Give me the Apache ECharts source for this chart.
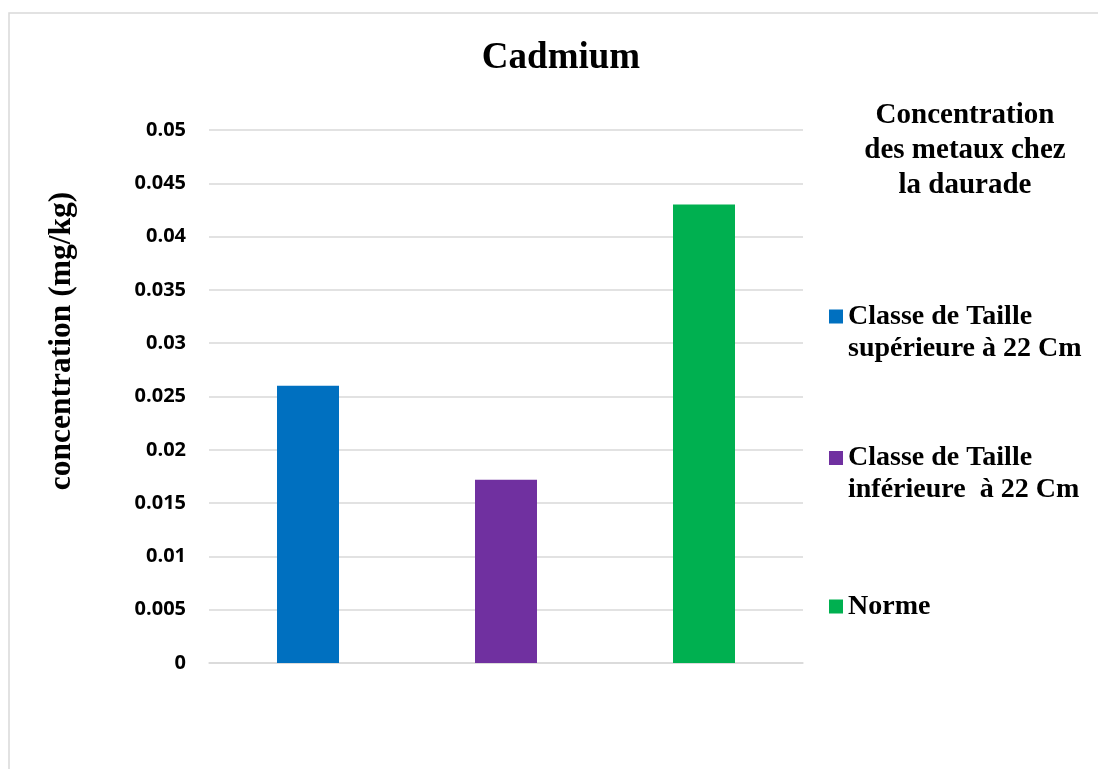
<!DOCTYPE html>
<html>
<head>
<meta charset="utf-8">
<script src="https://cdn.jsdelivr.net/npm/echarts@6/dist/echarts.min.js"></script>
<style>
  html, body { margin: 0; padding: 0; background: #fff; }
  #myBarChart { width: 1098px; height: 769px; }
</style>
</head>
<body>
<div id="myBarChart"></div>
<script>
  // data
  var categories = ['Classe de Taille\nsupérieure à 22 Cm', 'Classe de Taille\ninférieure  à 22 Cm', 'Norme'];
  var values = [0.026, 0.0172, 0.043];
  var barColors = ['#0070C0', '#7030A0', '#00B050'];
  var yTicks = { min: 0, max: 0.05, interval: 0.005 };

  var myBarChart = echarts.init(document.getElementById('myBarChart'));

  // one series per bar so each gets a legend entry, stacked so they sit centred
  var series = [];
  categories.forEach(function (name, i) {
    var d = categories.map(function (c, j) { return j === i ? values[i] : '-'; });
    series.push({
      name: name,
      type: 'bar',
      stack: 'all',
      barWidth: 62,
      itemStyle: { color: barColors[i] },
      data: d
    });
  });

  var serif = '"Liberation Serif", "Times New Roman", serif';
  // square on the first text line (two-line items) or in the middle (one line)
  var iconTop = 'path://M0,0L14,0L14,14L0,14Z M0,46L0.01,46';
  var iconMid = 'path://M0,0L0.01,0 M0,16L14,16L14,30L0,30Z M0,46L0.01,46';

  myBarChart.setOption({
    backgroundColor: '#fff',
    animation: false,
    graphic: [
      {
        type: 'rect',
        shape: { x: 9, y: 13, width: 1120, height: 780 },
        style: { fill: 'none', stroke: '#d9d9d9', lineWidth: 1.5 },
        silent: true
      },
      {
        type: 'text',
        x: 561, y: 58,
        style: {
          text: 'Cadmium', fill: '#000',
          font: 'bold 37px ' + serif,
          textAlign: 'center', textVerticalAlign: 'middle'
        }
      },
      {
        type: 'text',
        x: 965, y: 150.5,
        style: {
          text: 'Concentration\ndes metaux chez\nla daurade', fill: '#000',
          font: 'bold 29px ' + serif, lineHeight: 35,
          textAlign: 'center', textVerticalAlign: 'middle'
        }
      },
      {
        type: 'text',
        x: 62, y: 341,
        rotation: Math.PI / 2,
        style: {
          text: 'concentration (mg/kg)', fill: '#000',
          font: 'bold 31.5px ' + serif,
          textAlign: 'center', textVerticalAlign: 'middle'
        }
      }
    ],
    legend: {
      orient: 'vertical',
      left: 824,
      top: 295.5,
      itemWidth: 14,
      itemHeight: 46,
      itemGap: 77.5,
      textStyle: {
        fontFamily: serif,
        fontWeight: 'bold',
        fontSize: 28,
        lineHeight: 32,
        color: '#000'
      },
      data: categories.map(function (c, i) {
        return { name: c, icon: c.indexOf('\n') >= 0 ? iconTop : iconMid };
      })
    },
    grid: {
      left: 209,
      right: 295,
      top: 130,
      bottom: 106,
      containLabel: false
    },
    xAxis: {
      type: 'category',
      data: categories,
      axisTick: { show: false },
      axisLabel: { show: false },
      axisLine: { show: true, lineStyle: { color: '#d9d9d9', width: 1.5 } }
    },
    yAxis: {
      type: 'value',
      min: yTicks.min,
      max: yTicks.max,
      interval: yTicks.interval,
      axisLine: { show: false },
      axisTick: { show: false },
      axisLabel: {
        margin: 23,
        fontFamily: '"Open Sans", sans-serif',
        fontWeight: 'bold',
        fontSize: 20,
        color: '#000',
        formatter: function (v) { return String(+v.toFixed(3)); }
      },
      splitLine: { lineStyle: { color: '#d9d9d9', width: 1.5 } }
    },
    series: series
  });
</script>
</body>
</html>
